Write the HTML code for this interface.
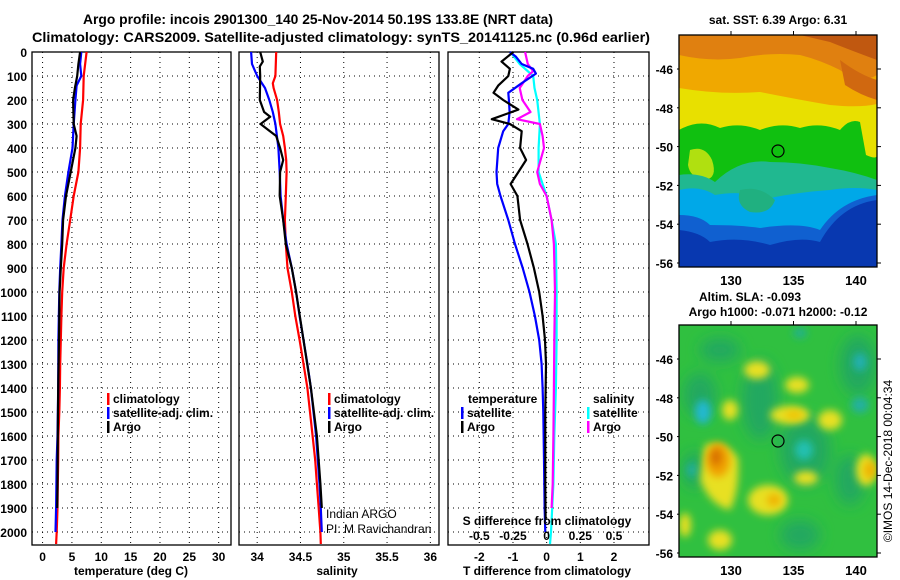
<!DOCTYPE html>
<html><head><meta charset="utf-8"><style>
html,body{margin:0;padding:0;background:#fff;}
svg{display:block;font-family:"Liberation Sans",Arial,sans-serif;}
.t{font-weight:bold;font-size:12px;fill:#000;}
</style></head><body>
<svg id="fig" width="900" height="580" viewBox="0 0 900 580" xmlns="http://www.w3.org/2000/svg">
<defs>
<filter id="blur4" x="-20%" y="-20%" width="140%" height="140%"><feGaussianBlur stdDeviation="4"/></filter>
<filter id="blur7" x="-30%" y="-30%" width="160%" height="160%"><feGaussianBlur stdDeviation="7"/></filter>
<clipPath id="clipA"><rect x="679" y="35" width="198" height="232"/></clipPath>
<clipPath id="clipB"><rect x="679" y="325" width="198" height="232"/></clipPath>
</defs>
<text x="318" y="24" text-anchor="middle" style="font-weight:bold;font-size:14px" textLength="470" lengthAdjust="spacingAndGlyphs">Argo profile: incois 2901300_140 25-Nov-2014 50.19S 133.8E (NRT data)</text>
<text x="341" y="42" text-anchor="middle" style="font-weight:bold;font-size:14px" textLength="618" lengthAdjust="spacingAndGlyphs">Climatology: CARS2009. Satellite-adjusted climatology: synTS_20141125.nc (0.96d earlier)</text>
<g id="panels"></g>

<!-- SST map -->
<text x="778" y="24" text-anchor="middle" class="t">sat. SST: 6.39 Argo: 6.31</text>
<g clip-path="url(#clipA)">
<rect x="679" y="35" width="198" height="232" fill="#f0a800"/>
<path d="M679,35 H877 V75 Q860,85 840,70 Q820,60 800,55 Q770,52 740,58 Q710,62 679,55 Z" fill="#e08010"/>
<path d="M800,35 H877 V60 Q850,50 830,42 Z" fill="#c05810"/>
<path d="M840,60 Q860,75 877,80 V100 Q860,95 845,85 Z" fill="#d06810"/>
<path d="M679,88 Q720,95 760,92 Q800,100 830,105 Q860,108 877,104 V267 H679 Z" fill="#e8e000"/>
<path d="M679,130 Q700,118 720,128 Q740,122 760,130 Q780,122 800,128 Q820,122 840,130 Q850,118 860,122 L866,155 Q877,160 877,155 V267 H679 Z" fill="#10c010"/>
<path d="M690,150 Q705,145 712,160 Q718,178 705,180 Q690,178 688,165 Z" fill="#b0e010"/>
<path d="M679,175 Q700,172 715,182 Q740,158 770,162 Q800,162 830,168 Q855,172 877,180 V267 H679 Z" fill="#20b890"/>
<path d="M679,190 Q700,185 715,195 Q740,190 770,198 Q800,192 830,190 Q855,186 877,190 V267 H679 Z" fill="#00a8e8"/>
<path d="M740,190 Q760,185 775,200 Q770,215 750,212 Q735,205 740,190 Z" fill="#20b080"/>
<path d="M679,215 Q700,215 710,225 Q740,225 760,228 Q800,222 820,230 Q840,200 877,195 V267 H679 Z" fill="#1060d0"/>
<path d="M679,230 Q700,232 710,242 Q740,236 770,245 Q800,236 820,242 Q840,205 877,200 V267 H679 Z" fill="#0838b0"/>
</g>
<rect x="679" y="35" width="198" height="232" fill="none" stroke="#000" stroke-width="1.3"/>
<circle cx="778" cy="151" r="6" fill="none" stroke="#000" stroke-width="1.2"/>

<!-- SLA map -->
<text x="750" y="301" text-anchor="middle" class="t">Altim. SLA: -0.093</text>
<text x="778" y="316" text-anchor="middle" class="t">Argo h1000: -0.071 h2000: -0.12</text>
<g clip-path="url(#clipB)">
<rect x="679" y="325" width="198" height="232" fill="#30c040"/>
<g filter="url(#blur7)" fill="#20a860">
<ellipse cx="760" cy="400" rx="18" ry="40"/><ellipse cx="805" cy="450" rx="25" ry="35"/><ellipse cx="850" cy="480" rx="15" ry="25"/><ellipse cx="700" cy="395" rx="16" ry="22"/><ellipse cx="858" cy="365" rx="18" ry="30"/><ellipse cx="720" cy="350" rx="20" ry="12"/><ellipse cx="800" cy="535" rx="20" ry="15"/><ellipse cx="695" cy="470" rx="12" ry="18"/>
</g>
<g filter="url(#blur4)">
<ellipse cx="703" cy="412" rx="8" ry="12" fill="#20b8d0"/>
<ellipse cx="804" cy="450" rx="9" ry="10" fill="#20c0b0"/>
<ellipse cx="860" cy="362" rx="7" ry="9" fill="#20b0b0"/>
<ellipse cx="860" cy="405" rx="9" ry="8" fill="#20b0a0"/>
<ellipse cx="692" cy="470" rx="5" ry="7" fill="#20b0a0"/>
<ellipse cx="800" cy="333" rx="7" ry="5" fill="#20b090"/>
</g>
<g filter="url(#blur4)" fill="#e8e020">
<path d="M705,445 Q725,440 738,458 Q740,490 730,510 Q710,505 700,480 Z"/>
<ellipse cx="790" cy="415" rx="20" ry="9"/><ellipse cx="830" cy="420" rx="12" ry="10"/>
<ellipse cx="806" cy="478" rx="12" ry="7"/><ellipse cx="768" cy="500" rx="20" ry="15"/>
<ellipse cx="866" cy="470" rx="10" ry="16"/><ellipse cx="757" cy="370" rx="13" ry="9"/>
<ellipse cx="797" cy="385" rx="12" ry="8"/><ellipse cx="730" cy="410" rx="8" ry="10"/>
<ellipse cx="720" cy="540" rx="12" ry="10"/><ellipse cx="685" cy="525" rx="6" ry="12"/>
</g>
<g filter="url(#blur4)">
<ellipse cx="718" cy="460" rx="12" ry="17" fill="#f0a000"/>
<ellipse cx="716" cy="457" rx="6" ry="9" fill="#d87000"/>
<ellipse cx="870" cy="470" rx="6" ry="9" fill="#f0b000"/>
<ellipse cx="774" cy="500" rx="7" ry="6" fill="#f0b000"/>
<ellipse cx="794" cy="415" rx="9" ry="4" fill="#f0c000"/>
</g>
</g>
<rect x="679" y="325" width="198" height="232" fill="none" stroke="#000" stroke-width="1.3"/>
<circle cx="778" cy="441" r="6" fill="none" stroke="#000" stroke-width="1.2"/>
<text transform="translate(892,461) rotate(-90)" text-anchor="middle" style="font-size:12px">©IMOS 14-Dec-2018 00:04:34</text>
<g id="mapaxes"></g>
</svg>
<script>
// ---- data ----
var depthClim = [0,100,200,300,400,500,600,700,800,900,1000,1100,1200,1300,1400,1500,1600,1700,1800,1900,2000,2050];
var tempClim  = [7.5,7.0,6.9,6.5,6.4,6.1,5.3,4.7,4.1,3.6,3.35,3.2,3.1,3.0,2.95,2.85,2.7,2.67,2.6,2.55,2.4,2.3];
var depthSat  = [0,50,100,140,200,300,400,500,600,700,800,900,1000,1200,1400,1600,1700,1900,2000];
var tempSat   = [6.6,6.4,6.6,5.8,5.6,5.3,5.1,4.4,3.8,3.4,3.2,3.0,2.85,2.7,2.67,2.55,2.4,2.3,2.2];
var depthArgo = [0,50,100,150,200,300,350,400,500,600,700,800,900,1000,1200,1400,1600,1800,1900];
var tempArgo  = [6.4,6.1,5.9,5.5,5.2,5.3,5.8,5.6,4.8,4.0,3.5,3.35,3.1,2.9,2.8,2.67,2.6,2.55,2.5];

var depthSClim = [0,100,130,150,200,250,300,350,400,450,500,600,700,800,900,1000,1100,1200,1300,1400,1500,1600,1700,1800,1900,2000,2050];
var salClim    = [34.22,34.21,34.18,34.19,34.23,34.25,34.265,34.30,34.32,34.335,34.34,34.33,34.32,34.33,34.35,34.40,34.44,34.49,34.535,34.58,34.61,34.64,34.67,34.69,34.71,34.73,34.735];
var depthSSat  = [0,50,100,150,200,250,300,400,500,600,700,800,900,1000,1100,1200,1300,1400,1500,1600,1700,1800,1900,2000];
var salSat     = [33.93,33.94,34.0,34.09,34.14,34.18,34.21,34.245,34.26,34.27,34.30,34.34,34.40,34.45,34.49,34.535,34.58,34.62,34.65,34.68,34.70,34.72,34.735,34.746];
var depthSArgo = [0,40,60,100,200,250,270,300,320,350,400,450,500,600,700,800,900,1000,1200,1400,1600,1800,1900];
var salArgo    = [34.035,34.065,34.03,34.035,34.03,34.08,34.15,34.04,34.11,34.22,34.265,34.30,34.265,34.26,34.30,34.33,34.40,34.45,34.535,34.62,34.69,34.73,34.746];

var depthDTSat  = [0,20,50,70,90,130,170,200,250,300,330,400,500,550,600,700,800,900,1000,1100,1200,1300,1400,1500,1700,1900,2000];
var dTSat       = [-1.09,-0.91,-0.74,-0.40,-0.32,-0.74,-1.14,-1.12,-1.1,-1.14,-1.29,-1.44,-1.49,-1.47,-1.37,-1.14,-0.94,-0.71,-0.51,-0.35,-0.22,-0.15,-0.12,-0.10,-0.08,-0.06,-0.04];
var depthDTArgo = [0,40,70,100,140,170,200,240,280,300,330,400,450,500,550,600,700,800,900,1000,1100,1200,1300,1500,1800,1950];
var dTArgo      = [-0.99,-1.34,-1.09,-1.14,-1.44,-1.58,-1.29,-0.84,-1.63,-1.09,-0.74,-0.79,-0.61,-0.84,-1.07,-0.87,-0.79,-0.57,-0.38,-0.22,-0.12,-0.05,-0.02,-0.04,-0.04,-0.03];
var depthDSSat  = [0,50,100,150,200,300,400,500,600,700,800,1000,1200,1400,1600,1800,2000,2050];
var dSSat       = [-0.27,-0.20,-0.10,-0.09,-0.07,-0.05,-0.06,-0.06,0,0.037,0.069,0.074,0.074,0.069,0.057,0.05,0.032,0.025];
var depthDSArgo = [0,50,80,100,150,200,250,280,300,350,400,500,550,600,700,800,1000,1200,1400,1600,1800,1900];
var dSArgo      = [-0.16,-0.14,-0.10,-0.14,-0.20,-0.18,-0.12,-0.22,-0.05,-0.03,-0.02,-0.07,-0.05,0,0.037,0.054,0.062,0.057,0.054,0.05,0.045,0.037];

var depthTicks = [0,100,200,300,400,500,600,700,800,900,1000,1100,1200,1300,1400,1500,1600,1700,1800,1900,2000];
var tempTicks = [0,5,10,15,20,25,30];
var salTicks = [34,34.5,35,35.5,36];
var salTickLabels = ["34","34.5","35","35.5","36"];
var dTTicks = [-2,-1,0,1,2];
var dSTicks = [-0.5,-0.25,0,0.25,0.5];
var dSTickLabels = ["-0.5","-0.25","0","0.25","0.5"];
var latTicks = [-46,-48,-50,-52,-54,-56];
var lonTicks = [130,135,140];

// ---- axes ----
var NS="http://www.w3.org/2000/svg";
var pTop=52, pBot=545;
function yD(d){ return 52 + d*0.24; }
var P1={x0:32,x1:231,v0:-1.8,v1:32.1};
var P2={x0:239,x1:439,v0:33.79,v1:36.1};
var P3={x0:448,x1:649,v0:-2.93,v1:3.04};
function xS(p,v){ return p.x0 + (v-p.v0)/(p.v1-p.v0)*(p.x1-p.x0); }
function xT(v){ return xS(P1,v); }
function xSal(v){ return xS(P2,v); }
function xDT(v){ return xS(P3,v); }
function xDS(v){ return xS(P3,v*4); }

var root=document.getElementById('panels');
function mk(tag,attrs,parent){ var e=document.createElementNS(NS,tag); for(var k in attrs) e.setAttribute(k,attrs[k]); (parent||root).appendChild(e); return e; }
function txt(x,y,s,anchor,cls,parent){ var e=mk('text',{x:x,y:y,'text-anchor':anchor||'start','class':cls||'t'},parent); e.textContent=s; return e; }

function panel(p,xticks,xfun,name){
  var g=mk('g',{});
  
  
  depthTicks.forEach(function(d){
    var l=mk('line',{x1:p.x0,x2:p.x1,y1:yD(d),y2:yD(d),stroke:'#000','stroke-width':1,'stroke-dasharray':'1,4'},g);
    
    
  });
  xticks.forEach(function(v){
    var l=mk('line',{x1:xfun(v),x2:xfun(v),y1:pTop,y2:pBot,stroke:'#000','stroke-width':1,'stroke-dasharray':'1,4'},g);
    
    
  });
  var r=mk('rect',{x:p.x0,y:pTop,width:p.x1-p.x0,height:pBot-pTop,fill:'none',stroke:'#000','stroke-width':1.3},g);
  
  
  return g;
}
function line(g,depths,vals,xf,color,name){
  var pts=depths.map(function(d,i){return xf(vals[i]).toFixed(1)+','+yD(d).toFixed(1);}).join(' ');
  var l=mk('polyline',{points:pts,fill:'none',stroke:color,'stroke-width':2.2,'stroke-linejoin':'round'},g);
  
  
}
function legend(g,x,y,color,label){
  var b=mk('rect',{x:x,y:y-10,width:2.5,height:12,fill:color},g);
  
  
  var t=txt(x+6,y,label,'start','t',g);
  
  
}

// depth labels
depthTicks.forEach(function(d){
  var t=txt(27,yD(d)+5,String(d),'end');
  
  
});

// panel 1
var g1=panel(P1,tempTicks,xT,'temperature-panel');
line(g1,depthClim,tempClim,xT,'#ff0000','temp-climatology-line');
line(g1,depthSat,tempSat,xT,'#0000ff','temp-satellite-line');
line(g1,depthArgo,tempArgo,xT,'#000000','temp-argo-line');
tempTicks.forEach(function(v){
  var t=txt(xT(v),561,String(v),'middle',null,g1);
  
  
});
var xt1=txt(131,575,'temperature (deg C)','middle',null,g1);


legend(g1,107,403,'#ff0000','climatology');
legend(g1,107,417,'#0000ff','satellite-adj. clim.');
legend(g1,107,431,'#000000','Argo');

// panel 2
var g2=panel(P2,salTicks,xSal,'salinity-panel');
line(g2,depthSClim,salClim,xSal,'#ff0000','sal-climatology-line');
line(g2,depthSSat,salSat,xSal,'#0000ff','sal-satellite-line');
line(g2,depthSArgo,salArgo,xSal,'#000000','sal-argo-line');
salTicks.forEach(function(v,i){
  var t=txt(xSal(v),561,salTickLabels[i],'middle',null,g2);
  
  
});
var xt2=txt(337,575,'salinity','middle',null,g2);


legend(g2,328,403,'#ff0000','climatology');
legend(g2,328,417,'#0000ff','satellite-adj. clim.');
legend(g2,328,431,'#000000','Argo');
var c1=txt(326,518,'Indian ARGO','start',null,g2);
c1.setAttribute('class','');
c1.setAttribute('style','font-size:12px');


var c2=txt(326,533,'PI: M Ravichandran','start',null,g2);
c2.setAttribute('class','');
c2.setAttribute('style','font-size:12px');



// panel 3
var g3=panel(P3,dTTicks,xDT,'difference-panel');
line(g3,depthDSSat,dSSat,xDS,'#00ffff','sal-diff-satellite-line');
line(g3,depthDSArgo,dSArgo,xDS,'#ff00ff','sal-diff-argo-line');
line(g3,depthDTSat,dTSat,xDT,'#0000ff','temp-diff-satellite-line');
line(g3,depthDTArgo,dTArgo,xDT,'#000000','temp-diff-argo-line');
dTTicks.forEach(function(v){
  var t=txt(xDT(v),561,String(v),'middle',null,g3);
  
  
});
dSTicks.forEach(function(v,i){
  var t=txt(xDS(v),540,dSTickLabels[i],'middle',null,g3);
  
  
});
var st=txt(547,525,'S difference from climatology','middle',null,g3);


var tt=txt(547,575,'T difference from climatology','middle',null,g3);


var lt=txt(468,403,'temperature','start',null,g3);


var ls=txt(593,403,'salinity','start',null,g3);


legend(g3,461,417,'#0000ff','satellite');
legend(g3,461,431,'#000000','Argo');
legend(g3,587,417,'#00ffff','satellite');
legend(g3,587,431,'#ff00ff','Argo');

// map axes
var ma=document.getElementById('mapaxes');
function xLon(lon){ return 731 + (lon-130)*12.5; }
[[69,267,35],[359,557,325]].forEach(function(m,mi){
  latTicks.forEach(function(lat){
    var y=m[0]+(-46-lat)/2*38.8;
    var t=txt(673,y+5,String(lat),'end',null,ma);
    
    
    var tk=mk('line',{x1:677,x2:679,y1:y,y2:y,stroke:'#000'},ma);
    
    
    var tk2=mk('line',{x1:877,x2:881,y1:y,y2:y,stroke:'#000'},ma);
    
    
  });
  lonTicks.forEach(function(lon){
    var t=txt(xLon(lon),m[1]+18,String(lon),'middle',null,ma);
    t.setAttribute('style','font-size:13px');
    
    
    var tk=mk('line',{x1:xLon(lon),x2:xLon(lon),y1:m[2]-4,y2:m[2],stroke:'#000'},ma);
    
    
  });
});
</script>
</body></html>
